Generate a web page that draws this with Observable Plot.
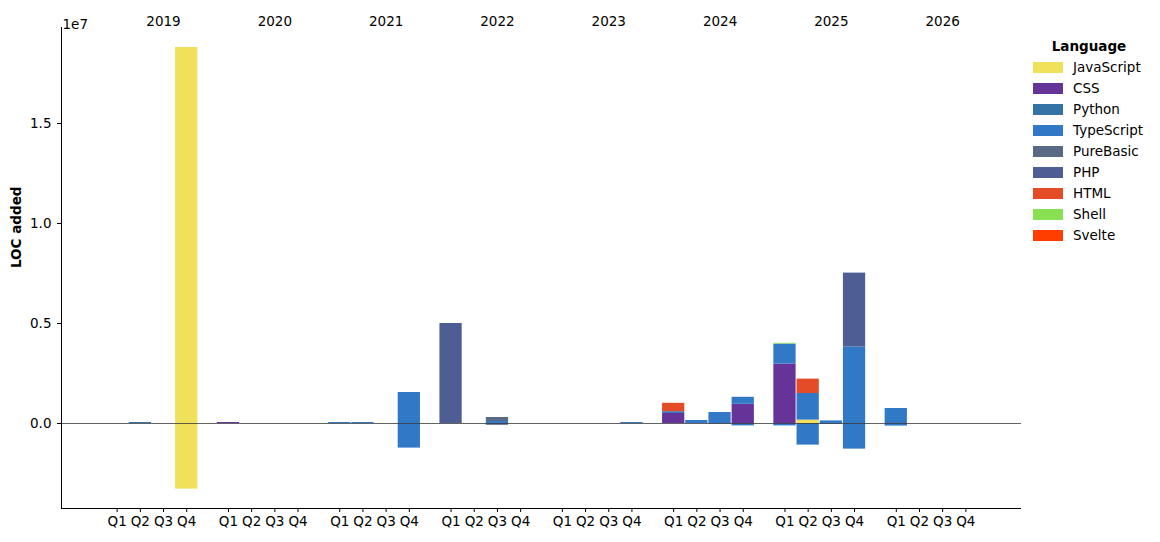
<!DOCTYPE html>
<html><head><meta charset="utf-8">
<script src="https://cdn.jsdelivr.net/npm/d3@7"></script>
<script src="https://cdn.jsdelivr.net/npm/@observablehq/plot@0.6"></script>
<style>
body{margin:0;background:#fff;font-family:"DejaVu Sans",sans-serif;}
#wrap{position:relative;width:1160px;height:542px;overflow:hidden;}
#legend{position:absolute;left:1033px;top:35px;font-size:13.5px;color:#000;}
#legend .title{width:112px;text-align:center;font-weight:bold;line-height:22px;height:22px;}
#legend .row{height:21px;line-height:21px;white-space:nowrap;display:flex;align-items:center;}
#legend .sw{width:30px;height:11px;margin-right:10px;display:inline-block;}
</style></head><body><div id="wrap"></div>
<script>
const years = [2019, 2020, 2021, 2022, 2023, 2024, 2025, 2026];
const quarters = ["Q1", "Q2", "Q3", "Q4"];
const languages = ["JavaScript", "CSS", "Python", "TypeScript", "PureBasic", "PHP", "HTML", "Shell", "Svelte"];
const languageColors = ["#f1e05a", "#663399", "#3572A5", "#3178c6", "#5a6986", "#4F5D95", "#e34c26", "#89e051", "#ff3e00"];

const rowYear = [2019, 2019, 2019, 2020, 2021, 2021, 2021, 2021, 2022, 2022, 2022, 2022, 2023,
  2024, 2024, 2024, 2024, 2024, 2024, 2024, 2024, 2024,
  2025, 2025, 2025, 2025, 2025, 2025, 2025, 2025, 2025, 2025, 2025, 2025, 2025, 2026, 2026];
const rowQuarter = ["Q2", "Q4", "Q4", "Q1", "Q1", "Q2", "Q4", "Q4", "Q1", "Q3", "Q3", "Q3", "Q4",
  "Q1", "Q1", "Q1", "Q2", "Q3", "Q3", "Q4", "Q4", "Q4",
  "Q1", "Q1", "Q1", "Q1", "Q2", "Q2", "Q2", "Q2", "Q3", "Q3", "Q4", "Q4", "Q4", "Q1", "Q1"];
const rowLanguage = ["Python", "JavaScript", "JavaScript", "CSS", "TypeScript", "TypeScript", "TypeScript", "TypeScript", "PHP", "TypeScript", "PureBasic", "PureBasic", "TypeScript",
  "CSS", "TypeScript", "HTML", "TypeScript", "TypeScript", "Python", "CSS", "TypeScript", "TypeScript",
  "CSS", "TypeScript", "Shell", "TypeScript", "JavaScript", "TypeScript", "HTML", "TypeScript", "TypeScript", "TypeScript", "TypeScript", "PHP", "TypeScript", "TypeScript", "TypeScript"];
const rowLoc = [50000, 18800000, -3280000, 50000, 50000, 50000, 1550000, -1230000, 5000000, 100000, 200000, -90000, 50000,
  500000, 90000, 420000, 150000, 550000, -30000, 960000, 350000, -120000,
  2970000, 1000000, 40000, -120000, 170000, 1330000, 720000, -1080000, 130000, -40000, 3820000, 3700000, -1280000, 750000, -130000];

const yTicks = [0, 5e6, 1e7, 1.5e7];

const SLOT = 4.8, HALF = 0.48;
const pos = (y, q) => years.indexOf(y) * SLOT + quarters.indexOf(q);
const data = rowYear.map((y, i) => ({year: y, quarter: rowQuarter[i], language: rowLanguage[i], loc: rowLoc[i], p: pos(y, rowQuarter[i])}));
const tickPos = years.flatMap(y => quarters.map(q => pos(y, q)));
const tickLabel = new Map(years.flatMap(y => quarters.map(q => [pos(y, q).toFixed(3), q])));
const xDomain = [-2.4, pos(2026, "Q4") + 2.4];
const yDomain = [-4.25e6, 19.8e6];
const FS = 13.5;

const chart = Plot.plot({
  width: 1160, height: 542,
  marginLeft: 61, marginRight: 139, marginTop: 27, marginBottom: 34,
  style: "font-family: 'DejaVu Sans', sans-serif; font-size: 13.5px; background: #fff; color: #000;",
  x: {type: "linear", domain: xDomain, axis: null},
  y: {domain: yDomain, axis: null},
  color: {type: "ordinal", domain: languages, range: languageColors},
  marks: [
    Plot.rectY(data, Plot.stackY({order: languages}, {x1: d => d.p - HALF, x2: d => d.p + HALF, y: "loc", fill: "language"})),
    Plot.ruleY([0], {stroke: "#3a3a3a", strokeWidth: 0.8}),
    Plot.ruleX([xDomain[0]], {stroke: "#000", strokeWidth: 1}),
    Plot.ruleY([yDomain[0]], {stroke: "#000", strokeWidth: 1}),
    Plot.axisY(yTicks, {tickSize: 4, tickPadding: 6, tickFormat: d => (d / 1e7).toFixed(1), label: null, fontSize: FS}),
    Plot.axisX(tickPos, {tickSize: 4, tickPadding: 4, tickFormat: d => tickLabel.get(d.toFixed(3)), label: null, fontSize: FS}),
    Plot.text(years, {x: y => pos(y, "Q3"), frameAnchor: "top", dy: -11, text: y => String(y), fontSize: FS}),
    Plot.text(["1e7"], {frameAnchor: "top-left", textAnchor: "start", dy: -8, dx: 1, text: d => d, fontSize: FS}),
    Plot.text(["LOC added"], {frameAnchor: "left", rotate: -90, dx: -45, text: d => d, fontWeight: "bold", fontSize: FS})
  ]
});

const wrap = document.getElementById("wrap");
wrap.appendChild(chart);

const color = chart.scale("color");
const legend = document.createElement("div");
legend.id = "legend";
const title = document.createElement("div");
title.className = "title";
title.textContent = "Language";
legend.appendChild(title);
languages.forEach(l => {
  const row = document.createElement("div");
  row.className = "row";
  const sw = document.createElement("span");
  sw.className = "sw";
  sw.style.background = color.apply(l);
  const lab = document.createElement("span");
  lab.textContent = l;
  row.appendChild(sw);
  row.appendChild(lab);
  legend.appendChild(row);
});
wrap.appendChild(legend);
</script>
</body></html>
